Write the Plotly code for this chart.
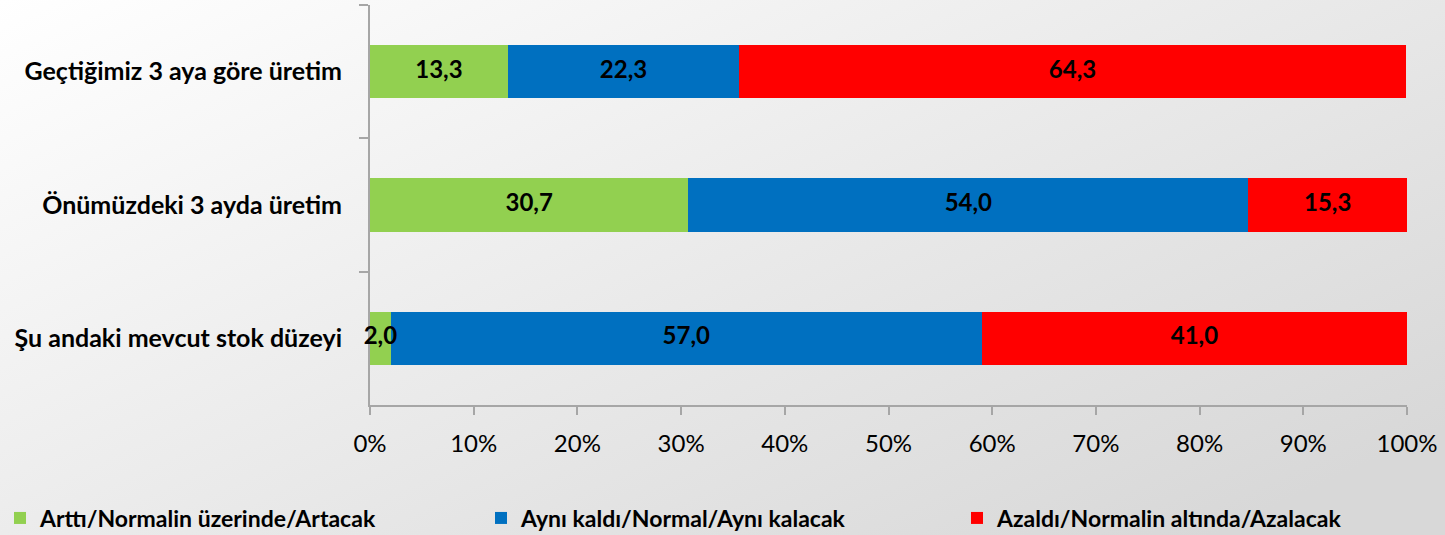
import base64
import plotly.graph_objects as go

categories = ["Geçtiğimiz 3 aya göre üretim", "Önümüzdeki 3 ayda üretim", "Şu andaki mevcut stok düzeyi"]
series_names = ["Arttı/Normalin üzerinde/Artacak", "Aynı kaldı/Normal/Aynı kalacak", "Azaldı/Normalin altında/Azalacak"]
increased = [13.3, 30.7, 2.0]
same = [22.3, 54.0, 57.0]
decreased = [64.3, 15.3, 41.0]
colors = ["#92D050", "#0070C0", "#FF0000"]
x_ticks = [0, 10, 20, 30, 40, 50, 60, 70, 80, 90, 100]

FONT = "Lato"

fig = go.Figure()
legend_ids = ["legend", "legend2", "legend3"]
series = [increased, same, decreased]
base = [0.0] * len(categories)
for name, vals, col, lid in zip(series_names, series, colors, legend_ids):
    fig.add_trace(go.Bar(
        y=categories, x=vals, name=name, orientation="h", legend=lid,
        marker=dict(color=col, line=dict(width=0)),
        hoverinfo="skip",
    ))
    mids = [b + v / 2 for b, v in zip(base, vals)]
    fig.add_trace(go.Scatter(
        x=mids, y=categories, mode="text", showlegend=False, cliponaxis=False,
        text=[f"{v:.1f}".replace(".", ",") for v in vals], textposition="middle center",
        textfont=dict(family=FONT, size=24, color="black", weight="bold"),
        hoverinfo="skip",
    ))
    base = [b + v for b, v in zip(base, vals)]

svg = (
    '<svg xmlns="http://www.w3.org/2000/svg" width="1445" height="535" preserveAspectRatio="none">'
    '<defs><linearGradient id="g" x1="0" y1="0" x2="1" y2="0.8">'
    '<stop offset="0" stop-color="#ffffff"/><stop offset="1" stop-color="#d8d8d8"/>'
    '</linearGradient></defs><rect width="1445" height="535" fill="url(#g)"/></svg>'
)
src = "data:image/svg+xml;base64," + base64.b64encode(svg.encode()).decode()

leg_common = dict(orientation="h", xref="container", yref="container", xanchor="left",
                  y=17/535, yanchor="middle", bgcolor="rgba(0,0,0,0)", itemwidth=30,
                  font=dict(family=FONT, size=23, weight="bold", color="black"))

fig.update_layout(
    width=1445, height=535,
    barmode="stack", bargap=0.6,
    margin=dict(l=370, r=38, t=5, b=130, autoexpand=False),
    paper_bgcolor="rgba(0,0,0,0)", plot_bgcolor="rgba(0,0,0,0)",
    images=[dict(source=src, xref="paper", yref="paper", x=-370/1037, y=1+5/400,
                 sizex=1445/1037, sizey=535/400, xanchor="left", yanchor="top",
                 sizing="stretch", layer="below")],
    font=dict(family=FONT, color="black"),
    showlegend=True,
    legend=dict(x=0, **leg_common),
    legend2=dict(x=481/1445, **leg_common),
    legend3=dict(x=957/1445, **leg_common),
    xaxis=dict(range=[0, 100], tickvals=x_ticks, ticktext=[f"{t}%" for t in x_ticks],
               automargin=False, layer="below traces",
               showgrid=False, zeroline=False, showline=True, linecolor="#a6a6a6", linewidth=2,
               ticks="outside", ticklen=8, tickcolor="#a6a6a6", tickwidth=2,
               tickfont=dict(family=FONT, size=24, color="black"), ticklabelstandoff=8),
    yaxis=dict(categoryorder="array", categoryarray=categories, autorange="reversed",
               automargin=False, layer="below traces",
               showgrid=False, zeroline=False, showline=True, linecolor="#a6a6a6", linewidth=2,
               ticks="outside", ticklen=9, tickcolor="#a6a6a6", tickwidth=2, tickson="boundaries",
               tickfont=dict(family=FONT, size=25, color="black", weight="bold"),
               ticklabelstandoff=21),
)

fig.write_html("out.html", config={"displayModeBar": False},
               post_script="document.body.style.margin='0';document.body.style.overflow='hidden';")
